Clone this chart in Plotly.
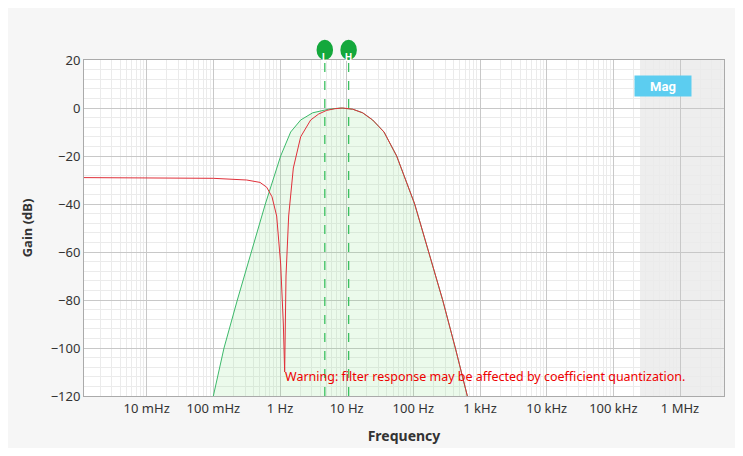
import plotly.graph_objects as go
import numpy as np

# Green (ideal/analog) magnitude response: log10(freq Hz), dB
green_logf = [-1.0, -0.84, -0.64, -0.43, -0.22, 0.01, 0.16, 0.31, 0.49, 0.73, 0.91, 1.09, 1.24, 1.39, 1.56, 1.75, 2.02, 2.23, 2.44, 2.63, 2.81]
green_db = [-120, -100, -80, -60, -40, -20, -10, -5, -2, -0.5, 0, -0.5, -2, -5, -10, -20, -40, -60, -80, -100, -120]
# Red (quantized) magnitude response
red_logf = [-2.94, -2.0, -1.0, -0.5, -0.3, -0.2, -0.12, -0.05, 0.01, 0.05, 0.07, 0.09, 0.13, 0.2, 0.31, 0.46, 0.58, 0.7, 0.82, 0.94, 1.09, 1.24, 1.39, 1.56, 1.75, 2.02, 2.23, 2.44, 2.63, 2.81]
red_db = [-29, -29, -29.3, -30, -31, -33, -37, -45, -65, -90, -110, -70, -45, -25, -12, -5, -2.5, -1, -0.3, 0, -0.5, -2, -5, -10, -20, -40, -60, -80, -100, -120]
marker_L_hz = 4.7
marker_H_hz = 10.7
tick_vals = [0.01, 0.1, 1, 10, 100, 1e3, 1e4, 1e5, 1e6]
tick_text = ["10 mHz", "100 mHz", "1 Hz", "10 Hz", "100 Hz", "1 kHz", "10 kHz", "100 kHz", "1 MHz"]
warning = "Warning: filter response may be affected by coefficient quantization."

gf = [10**v for v in green_logf]
rf = [10**v for v in red_logf]

fig = go.Figure()
fig.add_trace(go.Scatter(x=gf, y=green_db, mode="lines", line=dict(color="#3cb96a", width=1),
                         fill="toself", fillcolor="rgba(120,220,120,0.15)", hoverinfo="skip"))
fig.add_trace(go.Scatter(x=rf, y=red_db, mode="lines", line=dict(color="#e0303a", width=1)))

fig.add_vrect(x0=10**5.4, x1=10**6.7, fillcolor="rgba(200,200,200,0.3)", line_width=0, layer="below")
for f, lab in [(marker_L_hz, "L"), (marker_H_hz, "H")]:
    fig.add_shape(type="line", x0=f, x1=f, y0=-120, y1=20, line=dict(color="#3cc060", width=1.3, dash="dash"))
    fig.add_shape(type="circle", xref="x", yref="paper", x0=f / 1.33, x1=f * 1.33, y0=1.0, y1=1.06,
                  fillcolor="#14a83c", line_width=0)
    fig.add_annotation(x=np.log10(f), y=1.03, yref="paper", text="<b>%s</b>" % lab, showarrow=False,
                       font=dict(color="white", size=10, family="Roboto"))
fig.add_annotation(x=0.95, y=0.955, xref="paper", yref="paper", text="<b>Mag</b>", showarrow=False,
                   font=dict(color="white", size=13, family="Roboto"), bgcolor="#5ccdf0",
                   width=54, height=18)
fig.add_annotation(x=np.log10(1.2e3), y=-112, text=warning, showarrow=False,
                   font=dict(color="#ee0000", size=12.5, family="Noto Sans"))

fig.update_layout(
    width=727, height=440, margin=dict(l=76, r=11, t=52, b=52),
    paper_bgcolor="#f6f6f6", plot_bgcolor="white", showlegend=False,
    font=dict(family="Noto Sans", size=13, color="#333"),
    xaxis=dict(type="log", range=[-2.94, 6.66], tickvals=tick_vals, ticktext=tick_text,
               showgrid=True, gridcolor="#c8c8c8", showline=True, linecolor="#aaa", mirror=True,
               title=dict(text="<b>Frequency</b>", font=dict(size=14)), ticks="", automargin=False,
               minor=dict(showgrid=True, gridcolor="#ebebeb", dtick="D1")),
    yaxis=dict(range=[-120, 20], dtick=20, showgrid=True, gridcolor="#c8c8c8", zeroline=False,
               showline=True, linecolor="#aaa", mirror=True, automargin=False,
               title=dict(text="<b>Gain (dB)</b>", font=dict(size=13)),
               minor=dict(showgrid=True, gridcolor="#ebebeb", dtick=4)),
)
fig.write_html("out.html")
